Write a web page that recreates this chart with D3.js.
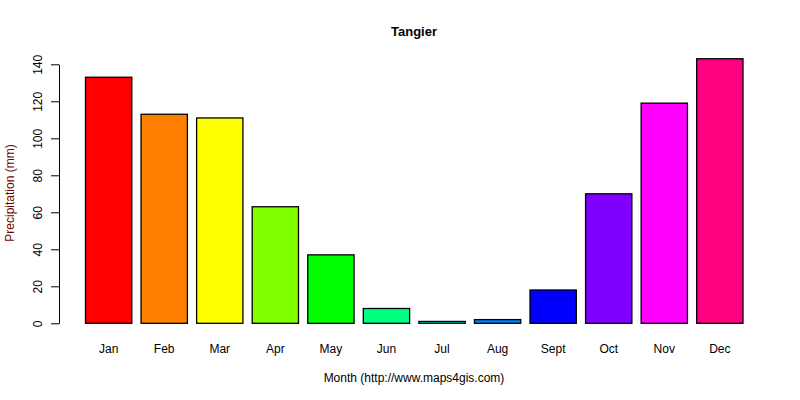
<!DOCTYPE html>
<html>
<head>
<meta charset="utf-8">
<script src="https://cdn.jsdelivr.net/npm/d3@7"></script>
<style>
  body { margin: 0; background: #fff; }
  svg { font-family: "Liberation Sans", Arial, sans-serif; }
</style>
</head>
<body>
<svg id="chart" width="800" height="400"></svg>
<script>
// monthly precipitation, Tangier
const months = ['Jan', 'Feb', 'Mar', 'Apr', 'May', 'Jun', 'Jul', 'Aug', 'Sept', 'Oct', 'Nov', 'Dec']
const precip = [133, 113, 111, 63, 37, 8, 1, 2, 18, 70, 119, 143]
const barColors = ['#FF0000', '#FF8000', '#FFFF00', '#80FF00', '#00FF00', '#00FF80',
                   '#00FFFF', '#0080FF', '#0000FF', '#8000FF', '#FF00FF', '#FF0080']
const yTicks = [0, 20, 40, 60, 80, 100, 120, 140]

const data = months.map((m, i) => ({month: m, value: precip[i], color: barColors[i]}))

const svg = d3.select('#chart')

// x scale: R barplot, width 1 + space 0.2
const x = d3.scaleBand()
    .domain(months)
    .range([85.5, 743])
    .paddingInner(0.2 / 1.2)
    .paddingOuter(0)

const y = d3.scaleLinear()
    .domain([0, 140])
    .range([323.3, 64.3])

// bars
svg.append('g')
    .selectAll('rect')
    .data(data)
    .join('rect')
    .attr('x', d => x(d.month))
    .attr('y', d => y(d.value))
    .attr('width', x.bandwidth())
    .attr('height', d => y(0) - y(d.value))
    .attr('fill', d => d.color)
    .attr('stroke', 'black')
    .attr('stroke-width', 1.3)

// y axis
const yAxis = svg.append('g')
    .attr('transform', 'translate(59,0)')
    .call(d3.axisLeft(y).tickValues(yTicks).tickSize(8).tickSizeOuter(0).tickFormat(d3.format('d')))

yAxis.select('.domain').attr('stroke', 'black').attr('stroke-width', 1)
yAxis.selectAll('.tick line').attr('stroke', 'black')
yAxis.selectAll('.tick text')
    .attr('x', 0)
    .attr('dy', 0)
    .attr('transform', 'translate(-17,0) rotate(-90)')
    .attr('text-anchor', 'middle')
    .attr('font-size', '12px')
    .attr('font-family', '"Liberation Sans", Arial, sans-serif')
    .attr('fill', 'black')

// month labels
svg.append('g')
    .selectAll('text')
    .data(data)
    .join('text')
    .attr('x', d => x(d.month) + x.bandwidth() / 2)
    .attr('y', 353)
    .attr('text-anchor', 'middle')
    .attr('font-size', '12px')
    .attr('fill', 'black')
    .text(d => d.month)

// title
svg.append('text')
    .attr('x', 414)
    .attr('y', 36)
    .attr('text-anchor', 'middle')
    .attr('font-size', '13px')
    .attr('font-weight', 'bold')
    .attr('fill', 'black')
    .text('Tangier')

// axis titles
svg.append('text')
    .attr('x', 414)
    .attr('y', 382)
    .attr('text-anchor', 'middle')
    .attr('font-size', '12px')
    .attr('fill', 'black')
    .text('Month (http://www.maps4gis.com)')

svg.append('text')
    .attr('transform', 'translate(14,193) rotate(-90)')
    .attr('text-anchor', 'middle')
    .attr('font-size', '12px')
    .attr('fill', '#700000')
    .text('Precipitation (mm)')
</script>
</body>
</html>
